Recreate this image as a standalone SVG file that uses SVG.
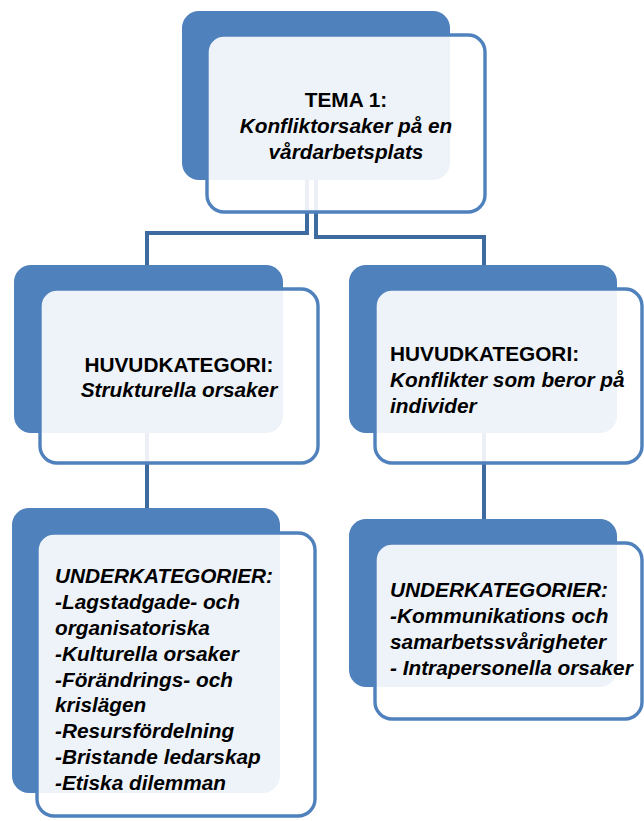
<svg xmlns="http://www.w3.org/2000/svg" width="644" height="821" viewBox="0 0 644 821">
  <style>
    .conn { fill: none; stroke: #3e6b9f; stroke-width: 4; }
    .back { fill: #4f81bd; }
    .front { fill: #ffffff; fill-opacity: 0.9; stroke: #4f81bd; stroke-width: 3.4; }
    text { font-family: "Liberation Sans", Arial, sans-serif; font-weight: bold; font-size: 20.8px; fill: #000000; }
    .it { font-style: italic; }
  </style>
  <rect width="644" height="821" fill="#ffffff"/>

  <!-- connectors -->
  <g id="connectors">
    <path class="conn" d="M307 180 V233 H147 V265"/>
    <path class="conn" d="M316 180 V237 H484 V265"/>
    <path class="conn" d="M147 433 V508"/>
    <path class="conn" d="M484 433 V519"/>
  </g>

  <!-- theme -->
  <g id="tema">
    <rect class="back" x="182" y="11" width="268" height="169" rx="17"/>
    <rect class="front" x="207" y="35" width="278" height="177" rx="17"/>
    <text x="346" y="107" text-anchor="middle">TEMA 1:</text>
    <text class="it" x="346" y="133" text-anchor="middle">Konfliktorsaker på en</text>
    <text class="it" x="346" y="159" text-anchor="middle">vårdarbetsplats</text>
  </g>

  <!-- main category: structural -->
  <g id="huvud-strukturella">
    <rect class="back" x="14" y="265" width="269" height="168" rx="17"/>
    <rect class="front" x="40" y="289" width="278" height="174" rx="17"/>
    <text x="179" y="372" text-anchor="middle">HUVUDKATEGORI:</text>
    <text class="it" x="179" y="397" text-anchor="middle">Strukturella orsaker</text>
  </g>

  <!-- main category: individual -->
  <g id="huvud-individer">
    <rect class="back" x="349" y="265" width="268" height="168" rx="17"/>
    <rect class="front" x="375" y="289" width="267" height="174" rx="17"/>
    <text x="390" y="361">HUVUDKATEGORI:</text>
    <text class="it" x="390" y="387">Konflikter som beror på</text>
    <text class="it" x="390" y="413">individer</text>
  </g>

  <!-- subcategories: structural -->
  <g id="under-strukturella">
    <rect class="back" x="12" y="508" width="268" height="285" rx="17"/>
    <rect class="front" x="37" y="533" width="278" height="283" rx="17"/>
    <text class="it" x="55" y="583">UNDERKATEGORIER:</text>
    <text class="it" x="55" y="609">-Lagstadgade- och</text>
    <text class="it" x="55" y="635">organisatoriska</text>
    <text class="it" x="55" y="661">-Kulturella orsaker</text>
    <text class="it" x="55" y="687">-Förändrings- och</text>
    <text class="it" x="55" y="712">krislägen</text>
    <text class="it" x="55" y="738">-Resursfördelning</text>
    <text class="it" x="55" y="764">-Bristande ledarskap</text>
    <text class="it" x="55" y="790">-Etiska dilemman</text>
  </g>

  <!-- subcategories: individual -->
  <g id="under-individer">
    <rect class="back" x="349" y="519" width="268" height="168" rx="17"/>
    <rect class="front" x="375" y="543" width="267" height="176" rx="17"/>
    <text class="it" x="390" y="597">UNDERKATEGORIER:</text>
    <text class="it" x="390" y="623">-Kommunikations och</text>
    <text class="it" x="390" y="649">samarbetssvårigheter</text>
    <text class="it" x="390" y="675">- Intrapersonella orsaker</text>
  </g>
</svg>
